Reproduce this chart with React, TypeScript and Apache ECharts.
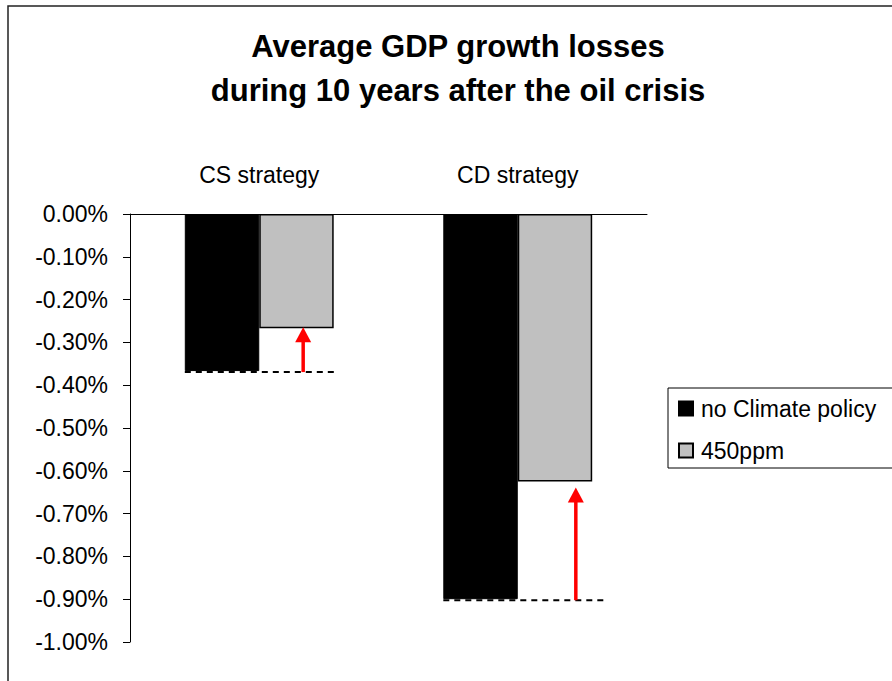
import React, { useEffect, useRef } from "react";
import * as echarts from "echarts";

// Chart data
const categories = ["CS strategy", "CD strategy"];
const seriesNames = ["no Climate policy", "450ppm"];
const noClimatePolicy = [-0.367, -0.9];
const ppm450 = [-0.267, -0.625];
const titleLines = ["Average GDP growth losses", "during 10 years after the oil crisis"];

// Arrow / reference-line placement (fraction of bar width into the 450ppm bar)
const ARROW_POS = [0.59, 0.78];
const DASH_EXTRA = [3, 16];
const HEAD_GAP = [-1, 6];

const FONT = '"Liberation Sans", Arial, sans-serif';
const LABEL_SIZE = 23;
const BAR_CATEGORY_GAP = 0.424;

export default function App() {
  const ref = useRef<HTMLDivElement>(null);

  useEffect(() => {
    if (!ref.current) return;
    const chart = echarts.init(ref.current, undefined, { renderer: "svg" });

    const arrowData = categories.map((_, i) => [i, noClimatePolicy[i], ppm450[i]]);

    chart.setOption({
      animation: false,
      backgroundColor: "#fff",
      textStyle: { fontFamily: FONT },
      graphic: [
        {
          type: "rect",
          silent: true,
          z: -10,
          shape: { x: 8, y: 6, width: 1000, height: 1000 },
          style: { fill: "none", stroke: "#222", lineWidth: 1.5 },
        },
        {
          // legend frame, running off the right edge of the page
          type: "rect",
          silent: true,
          z: -5,
          shape: { x: 668, y: 388, width: 400, height: 80 },
          style: { fill: "#fff", stroke: "#000", lineWidth: 1 },
        },
        {
          type: "text",
          x: 458,
          y: 24,
          style: {
            text: titleLines.join("\n"),
            fontFamily: FONT,
            fontSize: 31,
            fontWeight: "bold",
            lineHeight: 44,
            fill: "#000",
            align: "center",
            verticalAlign: "top",
          },
        },
      ],
      legend: {
        data: seriesNames,
        orient: "vertical",
        left: 668,
        top: 388,
        padding: [9, 10, 7, 10],
        itemGap: 19,
        itemWidth: 14,
        itemHeight: 14,
        icon: "rect",
        borderWidth: 0,
        textStyle: {
          fontFamily: FONT,
          fontSize: LABEL_SIZE,
          color: "#000",
          lineHeight: 23,
          padding: [0, 0, 0, 3],
        },
      },
      grid: { left: 130, right: 245, top: 214, bottom: 39 },
      xAxis: {
        type: "category",
        data: categories,
        position: "top",
        axisLine: { lineStyle: { color: "#000", width: 1 } },
        axisTick: { inside: true, length: 7, lineStyle: { color: "#000" } },
        axisLabel: { margin: 28, fontSize: LABEL_SIZE, color: "#000", fontFamily: FONT },
        splitLine: { show: false },
      },
      yAxis: {
        type: "value",
        min: -1,
        max: 0,
        interval: 0.1,
        axisLine: { show: true, lineStyle: { color: "#000", width: 1 } },
        axisTick: { show: true, length: 7, lineStyle: { color: "#000" } },
        axisLabel: {
          margin: 22,
          fontSize: LABEL_SIZE,
          color: "#000",
          fontFamily: FONT,
          formatter: (v: number) => `${v.toFixed(2)}%`,
        },
        splitLine: { show: false },
      },
      series: [
        {
          name: seriesNames[0],
          type: "bar",
          data: noClimatePolicy,
          barGap: "0%",
          barCategoryGap: `${BAR_CATEGORY_GAP * 100}%`,
          itemStyle: { color: "#000", borderColor: "#000", borderWidth: 1 },
        },
        {
          name: seriesNames[1],
          type: "bar",
          data: ppm450,
          barGap: "0%",
          barCategoryGap: `${BAR_CATEGORY_GAP * 100}%`,
          itemStyle: { color: "#c0c0c0", borderColor: "#000", borderWidth: 1.5 },
        },
        {
          name: "change",
          type: "custom",
          data: arrowData,
          encode: { x: 0, y: [1, 2] },
          z: 5,
          silent: true,
          renderItem: (params: any, api: any) => {
            const idx = api.value(0);
            const base = api.coord([idx, api.value(1)]);
            const tip = api.coord([idx, api.value(2)]);
            const band = api.size([1, 0])[0];
            const bw = (band * (1 - BAR_CATEGORY_GAP)) / 2;
            const cx = base[0];
            const ax = cx + bw * ARROW_POS[idx];
            const headTop = tip[1] + HEAD_GAP[idx];
            const headH = 15;
            const headW = 16;
            return {
              type: "group",
              children: [
                {
                  type: "line",
                  shape: { x1: cx - bw, y1: base[1] + 1, x2: cx + bw + DASH_EXTRA[idx], y2: base[1] + 1 },
                  style: { stroke: "#000", lineWidth: 2, lineDash: [6, 5] },
                },
                {
                  type: "line",
                  shape: { x1: ax, y1: base[1] + 1, x2: ax, y2: headTop + headH - 1 },
                  style: { stroke: "#ff0000", lineWidth: 3.5 },
                },
                {
                  type: "polygon",
                  shape: {
                    points: [
                      [ax, headTop],
                      [ax - headW / 2, headTop + headH],
                      [ax + headW / 2, headTop + headH],
                    ],
                  },
                  style: { fill: "#ff0000" },
                },
              ],
            };
          },
        },
      ],
    });

    return () => chart.dispose();
  }, []);

  return (
    <div
      ref={ref}
      style={{ position: "absolute", left: 0, top: 0, width: 892, height: 681 }}
    />
  );
}
